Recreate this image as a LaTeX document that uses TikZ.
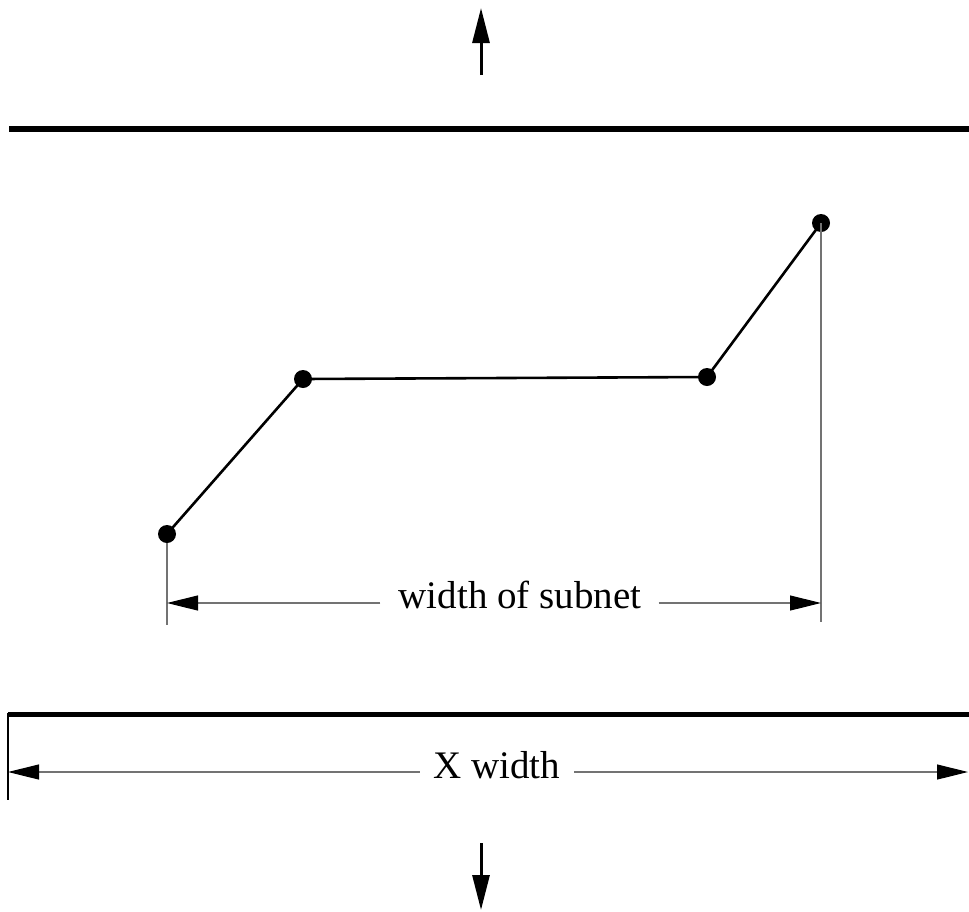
\documentclass[tikz,border=0pt]{standalone}
\usepackage{fontspec}
\setmainfont{Liberation Serif}
\usetikzlibrary{arrows.meta}
\begin{document}
\begin{tikzpicture}[x=1pt,y=-1pt,
  dot/.style={circle, fill=black, inner sep=0pt, minimum size=18pt},
  seg/.style={line width=2.6pt, line cap=round},
  thickbar/.style={line width=5.5pt},
  dimline/.style={line width=1.1pt, draw=black!55},
  dimtip/.style={-{Triangle[length=31pt,width=15pt,color=black]}},
  bigarrow/.style={line width=3pt, -{Triangle[length=35pt,width=17pt]}},
  lbl/.style={font=\fontsize{39}{47}\selectfont, inner sep=0pt, anchor=base},
]
\useasboundingbox (0,0) rectangle (969,911);

% vertical arrows
\coordinate (ua0) at (481,75);
\coordinate (ua1) at (481,8);
\draw[bigarrow] (ua0) -- (ua1);
\coordinate (da0) at (481,843);
\coordinate (da1) at (481,910);
\draw[bigarrow] (da0) -- (da1);

% thick bars
\coordinate (tb0) at (9,129);
\coordinate (tb1) at (969,129);
\draw[thickbar] (tb0) -- (tb1);
\coordinate (bb0) at (8,714.5);
\coordinate (bb1) at (969,714.5);
\draw[thickbar] (bb0) -- (bb1);

% subnet points
\node[dot] (p1) at (167,534) {};
\node[dot] (p2) at (303,379) {};
\node[dot] (p3) at (707,377) {};
\node[dot] (p4) at (821,223) {};
\draw[seg] (p1.center) -- (p2.center) -- (p3.center) -- (p4.center);

% extension lines for subnet
\coordinate (e1) at (167,625);
\coordinate (e2) at (821,622);
\draw[dimline] (p1.south) -- (e1);
\draw[dimline] (p4.center) -- (e2);

% width of subnet dimension
\coordinate (sL) at (167,603);
\coordinate (sR) at (821,603);
\node[lbl] (ws) at (520,608) {width of subnet};
\coordinate (wsl) at ([xshift=-18pt]ws.west);
\coordinate (wsr) at ([xshift=17pt]ws.east);
\draw[dimline, dimtip] (wsl |- sL) -- (sL);
\draw[dimline, dimtip] (wsr |- sR) -- (sR);

% X width dimension
\coordinate (xv0) at (8,713);
\coordinate (xv1) at (8,800);
\draw[dimline, draw=black] (xv0) -- (xv1);
\coordinate (xL) at (8,772);
\coordinate (xR) at (968,772);
\node[lbl] (xw) at (496.5,778) {X width};
\coordinate (xwl) at ([xshift=-13pt]xw.west);
\coordinate (xwr) at ([xshift=14pt]xw.east);
\draw[dimline, dimtip] (xwl |- xL) -- (xL);
\draw[dimline, dimtip] (xwr |- xR) -- (xR);
\end{tikzpicture}
\end{document}
